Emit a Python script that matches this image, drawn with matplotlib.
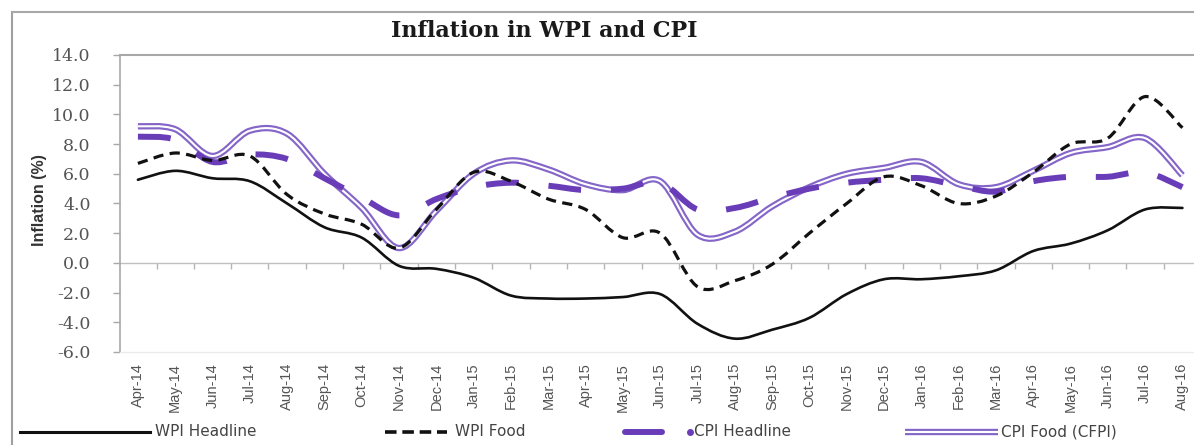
import numpy as np
import matplotlib
matplotlib.use('Agg')
import matplotlib.pyplot as plt
from matplotlib.path import Path
from matplotlib.patches import PathPatch
from matplotlib.lines import Line2D

months = ['Apr-14', 'May-14', 'Jun-14', 'Jul-14', 'Aug-14', 'Sep-14', 'Oct-14', 'Nov-14',
          'Dec-14', 'Jan-15', 'Feb-15', 'Mar-15', 'Apr-15', 'May-15', 'Jun-15', 'Jul-15',
          'Aug-15', 'Sep-15', 'Oct-15', 'Nov-15', 'Dec-15', 'Jan-16', 'Feb-16', 'Mar-16',
          'Apr-16', 'May-16', 'Jun-16', 'Jul-16', 'Aug-16']

wpi_headline = [5.6, 6.2, 5.7, 5.5, 4.0, 2.4, 1.7, -0.2, -0.4, -1.0, -2.2, -2.4, -2.4, -2.3,
                -2.1, -4.1, -5.1, -4.5, -3.7, -2.1, -1.1, -1.1, -0.9, -0.5, 0.8, 1.3, 2.2,
                3.6, 3.7]
wpi_food = [6.7, 7.4, 6.9, 7.2, 4.6, 3.3, 2.6, 1.0, 3.6, 6.1, 5.5, 4.3, 3.6, 1.7, 2.0, -1.6,
            -1.2, -0.1, 2.0, 4.0, 5.8, 5.2, 4.0, 4.5, 6.1, 8.0, 8.4, 11.2, 9.1]
cpi_headline = [8.5, 8.3, 6.8, 7.3, 7.0, 5.7, 4.4, 3.2, 4.3, 5.1, 5.4, 5.2, 4.9, 5.0, 5.4,
                3.6, 3.7, 4.4, 5.0, 5.4, 5.6, 5.7, 5.2, 4.8, 5.5, 5.8, 5.8, 6.1, 5.1]
cpi_food = [9.2, 9.0, 7.2, 8.9, 8.7, 6.0, 3.7, 1.0, 3.5, 6.0, 6.9, 6.3, 5.3, 4.9, 5.5, 1.9,
            2.1, 3.8, 5.1, 6.0, 6.4, 6.8, 5.3, 5.1, 6.2, 7.4, 7.8, 8.4, 5.9]

yticks = [-6, -4, -2, 0, 2, 4, 6, 8, 10, 12, 14]
ytick_labels = ['-6.0', '-4.0', '-2.0', '0.0', '2.0', '4.0', '6.0', '8.0', '10.0', '12.0', '14.0']

title = 'Inflation in WPI and CPI'
ylabel = 'Inflation (%)'
legend_labels = ['WPI Headline', 'WPI Food', 'CPI Headline', 'CPI Food (CFPI)']

PURPLE = '#6a3db8'
PURPLE_L = '#8566c8'

W, H = 1194, 445
fig = plt.figure(figsize=(W / 100, H / 100), dpi=100)
fig.patch.set_facecolor('white')

ax = fig.add_axes([120 / W, 1 - 352 / H, 1 - 120 / W, (352 - 55) / H])
ax.set_xlim(-0.48, 28.31)
ax.set_ylim(-6, 14)


def smooth_path(xs, ys):
    pts = np.column_stack([xs, ys]).astype(float)
    n = len(pts)
    verts = [pts[0]]
    codes = [Path.MOVETO]
    for i in range(n - 1):
        p0 = pts[i - 1] if i > 0 else pts[i]
        p1 = pts[i]
        p2 = pts[i + 1]
        p3 = pts[i + 2] if i + 2 < n else pts[i + 1]
        c1 = p1 + (p2 - p0) / 6.0
        c2 = p2 - (p3 - p1) / 6.0
        verts += [c1, c2, p2]
        codes += [Path.CURVE4] * 3
    return Path(verts, codes)


x = np.arange(len(months))

# CPI Food: double line
p = smooth_path(x, cpi_food)
ax.add_patch(PathPatch(p, fill=False, lw=4.6, edgecolor=PURPLE_L, zorder=2,
                       capstyle='butt', joinstyle='round'))
ax.add_patch(PathPatch(p, fill=False, lw=1.5, edgecolor='white', zorder=2.1,
                       capstyle='butt', joinstyle='round'))
# CPI Headline: long purple dashes
ax.add_patch(PathPatch(smooth_path(x, cpi_headline), fill=False, lw=4.3, edgecolor=PURPLE,
                       linestyle=(0, (5.5, 5.0)), capstyle='butt', zorder=3))
# WPI Food: black dashes
ax.add_patch(PathPatch(smooth_path(x, wpi_food), fill=False, lw=2.3, edgecolor='#111111',
                       linestyle=(0, (3.2, 2.0)), capstyle='butt', zorder=4))
# WPI Headline: solid black
ax.add_patch(PathPatch(smooth_path(x, wpi_headline), fill=False, lw=1.9, edgecolor='#111111',
                       capstyle='round', zorder=5))

# axes styling
ax.spines['right'].set_visible(False)
ax.spines['top'].set_color('#a8a8a8')
ax.spines['top'].set_linewidth(1.5)
ax.spines['left'].set_color('#a8a8a8')
ax.spines['left'].set_linewidth(1.2)
ax.spines['bottom'].set_color('#ebebeb')
ax.spines['bottom'].set_linewidth(1.0)

ax.set_yticks(yticks)
ax.set_yticklabels(ytick_labels, family='DejaVu Serif', fontsize=12.5, color='#555555')
ax.tick_params(axis='y', length=5, width=1, color='#a8a8a8', pad=16)

ax.set_xticks(x)
ax.set_xticklabels(months, rotation=90, family='Liberation Sans', fontsize=10.5,
                   color='#555555')
ax.tick_params(axis='x', length=0, pad=8)

# horizontal category axis at zero
sec = ax.secondary_xaxis(6 / 20)
sec.set_xticks(np.arange(0.5, 28.5, 1))
sec.set_xticklabels([])
sec.tick_params(axis='x', length=4, width=1, color='#b4b4b4', direction='out')
sec.spines['bottom'].set_color('#c0c0c0')
sec.spines['bottom'].set_linewidth(1.0)

ax.set_ylabel(ylabel, family='Liberation Sans', fontweight='bold', fontsize=11.5,
              color='#333333')
ax.yaxis.set_label_coords(-(120 - 47) / (W - 120), 0.5 + (207 - 204) / (352 - 55))

# outer frame and title
fig.add_artist(Line2D([12 / W, 12 / W], [0, 1 - 12 / H], color='#a0a0a0', lw=1.5))
fig.add_artist(Line2D([12 / W, 1], [1 - 12 / H, 1 - 12 / H], color='#a8a8a8', lw=1.5))
fig.text(544 / W, 1 - 31 / H, title, family='DejaVu Serif', fontweight='bold', fontsize=16,
         color='#1a1a1a', ha='center', va='center')

# legend (drawn manually)
ly = 1 - 432 / H
fs = 11
tc = '#444444'
fig.add_artist(Line2D([20 / W, 150 / W], [ly, ly], color='#111111', lw=2.2))
fig.text(155 / W, ly, legend_labels[0], fontsize=fs, color=tc, va='center', ha='left')
fig.add_artist(Line2D([385 / W, 447 / W], [ly, ly], color='#111111', lw=2.6,
                      linestyle=(0, (3.2, 1.6)), solid_capstyle='butt', dash_capstyle='butt'))
fig.text(455 / W, ly, legend_labels[1], fontsize=fs, color=tc, va='center', ha='left')
fig.add_artist(Line2D([625 / W, 662 / W], [ly, ly], color=PURPLE, lw=4.3,
                      solid_capstyle='round'))
fig.add_artist(Line2D([690 / W], [ly], color=PURPLE, marker='o', markersize=4, lw=0))
fig.text(694 / W, ly, legend_labels[2], fontsize=fs, color=tc, va='center', ha='left')
fig.add_artist(Line2D([905 / W, 998 / W], [ly, ly], color=PURPLE_L, lw=4.6,
                      solid_capstyle='butt'))
fig.add_artist(Line2D([905 / W, 998 / W], [ly, ly], color='white', lw=1.5,
                      solid_capstyle='butt'))
fig.text(1001 / W, ly, legend_labels[3], fontsize=fs, color=tc, va='center', ha='left')

fig.savefig('out.png', dpi=100, facecolor='white')
